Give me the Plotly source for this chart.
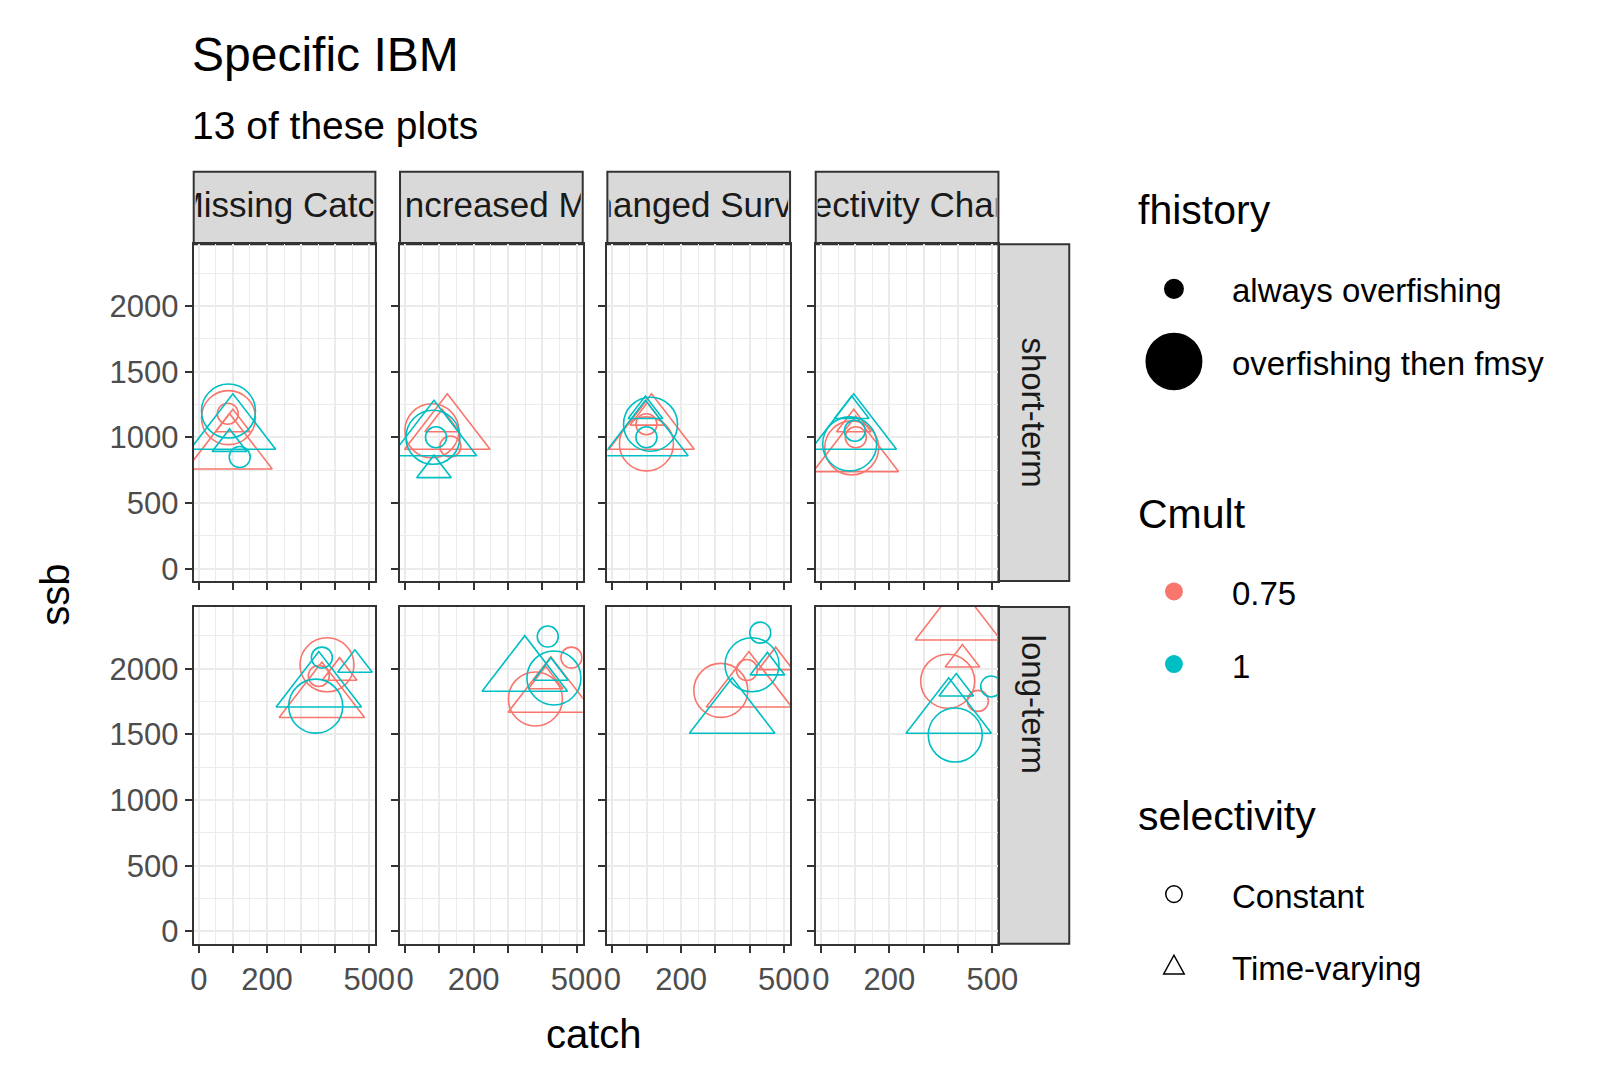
import plotly.graph_objects as go
from plotly.subplots import make_subplots

W, H = 1615, 1065
S = 1615 / 1551  # reference measured at display scale
red, cyan = "#F8766D", "#00BFC4"

scenarios = ["Missing Catch", "Increased M", "Changed Survey", "Selectivity Change"]
horizons = ["short-term", "long-term"]
# order of points in each panel: (Cmult, fhistory, selectivity)
p_cmult = ["0.75", "0.75", "0.75", "0.75", "1", "1", "1", "1"]
p_fhist = ["then", "then", "always", "always", "then", "then", "always", "always"]
p_sel = ["Constant", "Time-varying", "Constant", "Time-varying"] * 2

catch = {
    ("short-term", 0): [87, 90, 85, 100, 87, 100, 120, 90],
    ("short-term", 1): [78, 123, 132, 108, 81, 84, 90, 84],
    ("short-term", 2): [99, 114, 99, 102, 111, 96, 99, 96],
    ("short-term", 3): [90, 102, 102, 96, 84, 96, 99, 90],
    ("long-term", 0): [376, 361, 352, 413, 343, 352, 361, 458],
    ("long-term", 1): [380, 425, 485, 410, 434, 349, 416, 425],
    ("long-term", 2): [316, 398, 392, 476, 407, 349, 431, 452],
    ("long-term", 3): [370, 400, 458, 413, 392, 373, 497, 395],
}
ssb = {
    ("short-term", 0): [1150, 900, 1180, 1100, 1200, 1050, 850, 950],
    ("short-term", 1): [1050, 1050, 930, 1100, 1000, 1000, 1000, 750],
    ("short-term", 2): [950, 1050, 1100, 1150, 1100, 1000, 1000, 1200],
    ("short-term", 3): [920, 880, 1000, 1100, 950, 1050, 1050, 1200],
    ("long-term", 0): [2030, 1770, 1945, 1970, 1715, 1850, 2085, 2030],
    ("long-term", 1): [1770, 1810, 2085, 1905, 1930, 1970, 2245, 1970],
    ("long-term", 2): [1835, 1850, 1990, 2050, 2030, 1650, 2275, 2010],
    ("long-term", 3): [1905, 2360, 1755, 2070, 1495, 1650, 1865, 1850],
}

xt_vals = [0, 100, 200, 300, 400, 500]
xt_text = ["0", "", "200", "", "", "500"]
yt_vals = [0, 500, 1000, 1500, 2000]

px_cols = [(178 * S, 355 * S), (379 * S, 557 * S), (581 * S, 759 * S), (784 * S, 962 * S)]
px_rows = [(228 * S, 553 * S), (578 * S, 903 * S)]

fig = make_subplots(rows=2, cols=4)
font = "Liberation Sans, Arial, sans-serif"

for r, hz in enumerate(horizons):
    for c in range(4):
        xs, ys = catch[(hz, c)], ssb[(hz, c)]
        for i in range(8):
            col = red if p_cmult[i] == "0.75" else cyan
            big = p_fhist[i] == "then"
            if p_sel[i] == "Constant":
                sym, sz = "circle-open", (54 if big else 21)
            else:
                sym, sz = "triangle-up-open", (74 if big else 30)
            fig.add_trace(go.Scatter(x=[xs[i]], y=[ys[i]], mode="markers", showlegend=False,
                                     marker=dict(symbol=sym, size=sz, color=col, line=dict(width=1.6, color=col))),
                          row=r + 1, col=c + 1)
        x0, x1 = px_cols[c]
        y0, y1 = px_rows[r]
        fig.update_xaxes(domain=[x0 / W, x1 / W], range=[-15, 518], row=r + 1, col=c + 1,
                         tickvals=xt_vals, ticktext=xt_text if r == 1 else [""] * 6,
                         showticklabels=(r == 1))
        fig.update_yaxes(domain=[1 - y1 / H, 1 - y0 / H], range=[-95, 2470], row=r + 1, col=c + 1,
                         tickvals=yt_vals, showticklabels=(c == 0))

fig.update_xaxes(showline=True, mirror=True, linecolor="#333333", linewidth=2, ticks="outside",
                 ticklen=7, tickwidth=2, tickcolor="#333333", gridcolor="#EBEBEB", gridwidth=2,
                 minor=dict(dtick=50, showgrid=True, gridcolor="#EBEBEB", gridwidth=1),
                 zeroline=False, tickfont=dict(size=31, color="#4D4D4D"))
fig.update_yaxes(showline=True, mirror=True, linecolor="#333333", linewidth=2, ticks="outside",
                 ticklen=7, tickwidth=2, tickcolor="#333333", gridcolor="#EBEBEB", gridwidth=2,
                 minor=dict(dtick=250, showgrid=True, gridcolor="#EBEBEB", gridwidth=1),
                 zeroline=False, tickfont=dict(size=31, color="#4D4D4D"))

shapes, anns = [], []

# strip labels: text traces on their own hidden axes so they are clipped to the strip
for c, name in enumerate(scenarios):
    x0, x1 = px_cols[c]
    shapes.append(dict(type="rect", xref="paper", yref="paper", x0=x0 / W, x1=x1 / W,
                       y0=1 - 228 * S / H, y1=1 - 158 * S / H, fillcolor="#D9D9D9",
                       line=dict(color="#333333", width=2), layer="below"))
    k = 9 + c
    fig.add_trace(go.Scatter(x=[0.5], y=[0.5], mode="text", text=[name], cliponaxis=True,
                             textfont=dict(size=35, color="#1A1A1A"), hoverinfo="skip",
                             showlegend=False, xaxis=f"x{k}", yaxis=f"y{k}"))
    fig.update_layout(**{
        f"xaxis{k}": dict(domain=[(x0 + 2) / W, (x1 - 2) / W], range=[0, 1], visible=False,
                          anchor=f"y{k}", showgrid=False),
        f"yaxis{k}": dict(domain=[1 - 227 * S / H, 1 - 159 * S / H], range=[0, 1], visible=False,
                          anchor=f"x{k}", showgrid=False),
    })
for r, hz in enumerate(horizons):
    y0, y1 = px_rows[r]
    shapes.append(dict(type="rect", xref="paper", yref="paper", x0=962 * S / W, x1=1031 * S / W,
                       y0=1 - y1 / H, y1=1 - y0 / H, fillcolor="#D9D9D9",
                       line=dict(color="#333333", width=2), layer="below"))
    anns.append(dict(text=hz, x=996 * S / W, y=1 - (y0 + y1) / 2 / H, xref="paper", yref="paper",
                     showarrow=False, textangle=90, font=dict(size=33, color="#1A1A1A")))

def text(t, x, y, size, xanchor="left", angle=0):
    anns.append(dict(text=t, x=x * S / W, y=1 - y * S / H, xref="paper", yref="paper", showarrow=False,
                     xanchor=xanchor, yanchor="middle", textangle=angle,
                     font=dict(size=size, color="black")))

text("Specific IBM", 174, 45, 48)
text("13 of these plots", 174, 113, 39)
text("catch", 568, 990, 40, xanchor="center")
text("ssb", 42, 566, 40, xanchor="center", angle=-90)

text("fhistory", 1096, 195, 41)
text("always overfishing", 1188, 273, 33)
text("overfishing then fmsy", 1188, 343, 33)
text("Cmult", 1096, 488, 41)
text("0.75", 1188, 565, 33)
text("1", 1188, 635, 33)
text("selectivity", 1096, 780, 41)
text("Constant", 1188, 857, 33)
text("Time-varying", 1188, 927, 33)

def dot(cx, cy, rad, fill, line):
    cx, cy, rad = cx * S, cy * S, rad * S
    shapes.append(dict(type="circle", xref="paper", yref="paper",
                       x0=(cx - rad) / W, x1=(cx + rad) / W, y0=1 - (cy + rad) / H, y1=1 - (cy - rad) / H,
                       fillcolor=fill, line=dict(color=line, width=1.5)))

dot(1133, 271, 9, "black", "black")
dot(1133, 341, 27, "black", "black")
dot(1133, 563, 8, red, red)
dot(1133, 633, 8, cyan, cyan)
dot(1133, 855, 8, "rgba(0,0,0,0)", "black")
def px(x, y):
    return x * S / W, 1 - y * S / H
ax, ay = px(1123, 932)
bx, by = px(1143, 932)
tx, ty = px(1133, 914)
shapes.append(dict(type="path", xref="paper", yref="paper",
                   path=f"M {ax} {ay} L {bx} {by} L {tx} {ty} Z", line=dict(color="black", width=1.5)))

fig.update_layout(width=W, height=H, margin=dict(l=0, r=0, t=0, b=0), plot_bgcolor="white",
                  paper_bgcolor="white", shapes=shapes, annotations=anns,
                  font=dict(family=font), showlegend=False)
fig.write_html("out.html")
